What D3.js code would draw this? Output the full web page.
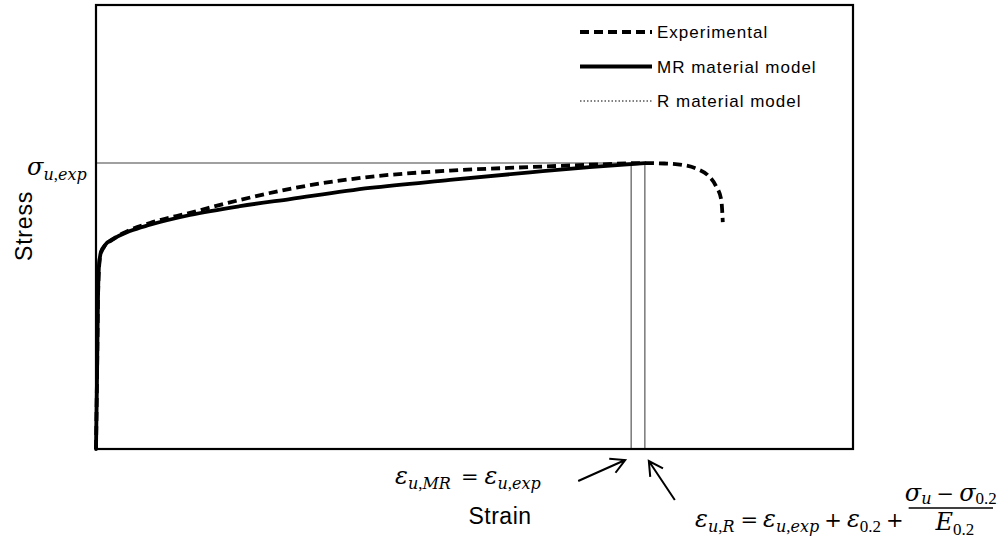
<!DOCTYPE html>
<html>
<head>
<meta charset="utf-8">
<script src="https://cdn.jsdelivr.net/npm/d3@7"></script>
<style>
  html, body { margin: 0; padding: 0; background: #fff; }
  svg { display: block; }
  .lbl { font-family: "Liberation Sans", Arial, sans-serif; fill: #000; }
  .math { font-family: "DejaVu Serif", "Liberation Serif", serif; fill: #000; white-space: pre; }
  .math .num { font-family: "Liberation Serif", "DejaVu Serif", serif; }
</style>
</head>
<body>
<svg id="chart" width="997" height="544"></svg>
<script>
// Stress–strain curves (normalised units: strain 0–100, stress 0–100)
const expStrain = [0, 0.13, 0.26, 0.40, 0.59, 1.06, 2.11, 3.57, 7.13, 12.42, 19.02, 25.63, 36.2, 46.76, 57.33, 66.58, 72.5, 75.1, 77.4, 79.4, 80.8, 81.9, 82.6, 82.8];
const expStress = [0, 15.5, 33.6, 40.8, 43.7, 45.5, 47.1, 48.6, 50.9, 53.2, 56.1, 58.6, 61.3, 62.7, 63.5, 64.1, 64.4, 64.3, 64.0, 63.1, 61.7, 59.2, 56.1, 51.1];

const mrStrain = [0, 0.13, 0.26, 0.40, 0.66, 1.19, 2.51, 4.49, 7.13, 12.42, 19.02, 25.63, 36.2, 46.76, 57.33, 65.2, 72.5];
const mrStress = [0, 15.5, 33.6, 41.4, 44.4, 45.9, 47.5, 49.1, 50.5, 52.7, 54.7, 56.3, 58.8, 60.6, 62.3, 63.5, 64.4];

const rStrain = [0, 0.13, 0.26, 0.40, 0.66, 1.19, 2.51, 4.49, 7.13, 12.42, 19.02, 25.63, 36.2, 46.76, 57.33, 65.2, 72.5];
const rStress = [0, 15.5, 33.6, 41.4, 44.4, 45.9, 47.5, 49.1, 50.5, 52.7, 54.7, 56.3, 58.8, 60.6, 62.3, 63.5, 64.4];

// Ultimate stress and the two ultimate-strain definitions
const sigmaU = 64.4;
const epsUMR = 70.7;
const epsUR = 72.5;

const legendLabels = ["Experimental", "MR material model", "R material model"];

const svg = d3.select("#chart");
const box = { left: 96, right: 853, top: 5, bottom: 449 };

const x = d3.scaleLinear().domain([0, 100]).range([box.left, box.right]);
const y = d3.scaleLinear().domain([0, 100]).range([box.bottom, box.top]);

const toPts = (xs, ys) => xs.map((v, i) => [v, ys[i]]);
const line = d3.line().x(d => x(d[0])).y(d => y(d[1])).curve(d3.curveMonotoneX);

// Reference lines for sigma_u and the two ultimate strains
svg.append("line")
  .attr("x1", x(0)).attr("x2", x(epsUR))
  .attr("y1", y(sigmaU)).attr("y2", y(sigmaU))
  .attr("stroke", "#808080").attr("stroke-width", 1.6);
[epsUMR, epsUR].forEach(e => {
  svg.append("line")
    .attr("x1", x(e)).attr("x2", x(e))
    .attr("y1", y(sigmaU)).attr("y2", y(0))
    .attr("stroke", "#808080").attr("stroke-width", 1.6);
});

// Curves
svg.append("path").datum(toPts(rStrain, rStress)).attr("d", line)
  .attr("fill", "none").attr("stroke", "#666").attr("stroke-width", 1.3)
  .attr("stroke-dasharray", "1.5,2");
svg.append("path").datum(toPts(mrStrain, mrStress)).attr("d", line)
  .attr("fill", "none").attr("stroke", "#000").attr("stroke-width", 3.8)
  .attr("stroke-linecap", "round");
svg.append("path").datum(toPts(expStrain, expStress)).attr("d", line)
  .attr("fill", "none").attr("stroke", "#000").attr("stroke-width", 3.8)
  .attr("stroke-dasharray", "9,5");

// Plot frame
svg.append("rect")
  .attr("x", box.left).attr("y", box.top)
  .attr("width", box.right - box.left).attr("height", box.bottom - box.top)
  .attr("fill", "none").attr("stroke", "#000").attr("stroke-width", 2.2);

// Legend
const legend = svg.append("g").attr("transform", "translate(580,0)");
const legendStyles = [
  { dash: "9,5", w: 4, c: "#000" },
  { dash: null, w: 4, c: "#000" },
  { dash: "1.5,2", w: 1.3, c: "#555" }
];
legendLabels.forEach((lab, i) => {
  const yy = 32 + i * 34.5;
  const ln = legend.append("line").attr("x1", 0).attr("x2", 72)
    .attr("y1", yy).attr("y2", yy)
    .attr("stroke", legendStyles[i].c).attr("stroke-width", legendStyles[i].w);
  if (legendStyles[i].dash) ln.attr("stroke-dasharray", legendStyles[i].dash);
  legend.append("text").attr("class", "lbl")
    .attr("x", 77).attr("y", yy + 6)
    .attr("font-size", 17).attr("letter-spacing", 1)
    .attr("fill", "#222")
    .text(lab);
});

// Axis titles
svg.append("text").attr("class", "lbl")
  .attr("transform", "translate(32,226) rotate(-90)")
  .attr("text-anchor", "middle").attr("font-size", 23).attr("letter-spacing", 0.8)
  .attr("fill", "#222")
  .text("Stress");
svg.append("text").attr("class", "lbl")
  .attr("x", 500).attr("y", 524)
  .attr("text-anchor", "middle").attr("font-size", 23).attr("letter-spacing", 0.5)
  .attr("fill", "#222")
  .text("Strain");

// Math annotations: parts are [text, isSubscript, kind, gap before]
// kind: undefined = italic symbol, "op" = operator, "num" = upright numerals/punctuation
const MAIN = 24, SUB = 16, OP = 21, DROP = 5;
function mathRun(x0, y0, parts, drop = DROP) {
  const t = svg.append("text").attr("class", "math").attr("x", x0).attr("y", y0);
  let down = false;
  parts.forEach(([s, sub, kind, gap]) => {
    const size = sub ? (kind === "num" ? SUB + 1 : SUB) : (kind === "op" ? OP : MAIN);
    const ts = t.append("tspan").text(s)
      .attr("font-size", size)
      .attr("font-style", kind ? "normal" : "italic");
    if (kind === "num") ts.attr("class", "num");
    if (sub && !down) { ts.attr("dy", drop); down = true; }
    else if (!sub && down) { ts.attr("dy", -drop); down = false; }
    if (gap) ts.attr("dx", gap);
  });
  return t;
}

mathRun(27, 175, [["σ"], ["u", true], [",", true, "num"], ["exp", true]]);

mathRun(395, 484, [["ε"], ["u", true], [",", true, "num"], ["MR", true],
  ["=", false, "op", 10], ["ε", false, undefined, 6], ["u", true], [",", true, "num"], ["exp", true]]);

const eq = mathRun(695, 527, [["ε"], ["u", true], [",", true, "num"], ["R", true],
  ["=", false, "op", 6], ["ε", false, undefined, 5], ["u", true], [",", true, "num"], ["exp", true],
  ["+", false, "op", 5], ["ε", false, undefined, 5], ["0.2", true, "num"], ["+", false, "op", 5]]);
const eb = eq.node().getBBox();
const fx0 = eb.x + eb.width + 5;
const fx1 = 993;
const fmid = (fx0 + fx1) / 2;
svg.append("line").attr("x1", fx0).attr("x2", fx1).attr("y1", 508).attr("y2", 508)
  .attr("stroke", "#000").attr("stroke-width", 1.5);
mathRun(fmid, 501, [["σ"], ["u", true], ["−", false, "op", 5], ["σ", false, undefined, 5], ["0.2", true, "num"]], 3)
  .attr("text-anchor", "middle");
mathRun(fmid + 4, 530, [["E"], ["0.2", true, "num"]])
  .attr("text-anchor", "middle");

// Arrows pointing to the two ultimate-strain lines
function arrow(tip, tail) {
  const ang = Math.atan2(tail[1] - tip[1], tail[0] - tip[0]);
  const L = 16, spread = 0.5;
  const h1 = [tip[0] + L * Math.cos(ang + spread), tip[1] + L * Math.sin(ang + spread)];
  const h2 = [tip[0] + L * Math.cos(ang - spread), tip[1] + L * Math.sin(ang - spread)];
  svg.append("path")
    .attr("d", `M${tail}L${tip}M${h1}L${tip}L${h2}`)
    .attr("fill", "none").attr("stroke", "#000").attr("stroke-width", 2);
}
arrow([x(epsUMR) - 6, y(0) + 11], [x(epsUMR) - 53, y(0) + 32]);
arrow([x(epsUR) + 4, y(0) + 12], [x(epsUR) + 30, y(0) + 51]);
</script>
</body>
</html>
